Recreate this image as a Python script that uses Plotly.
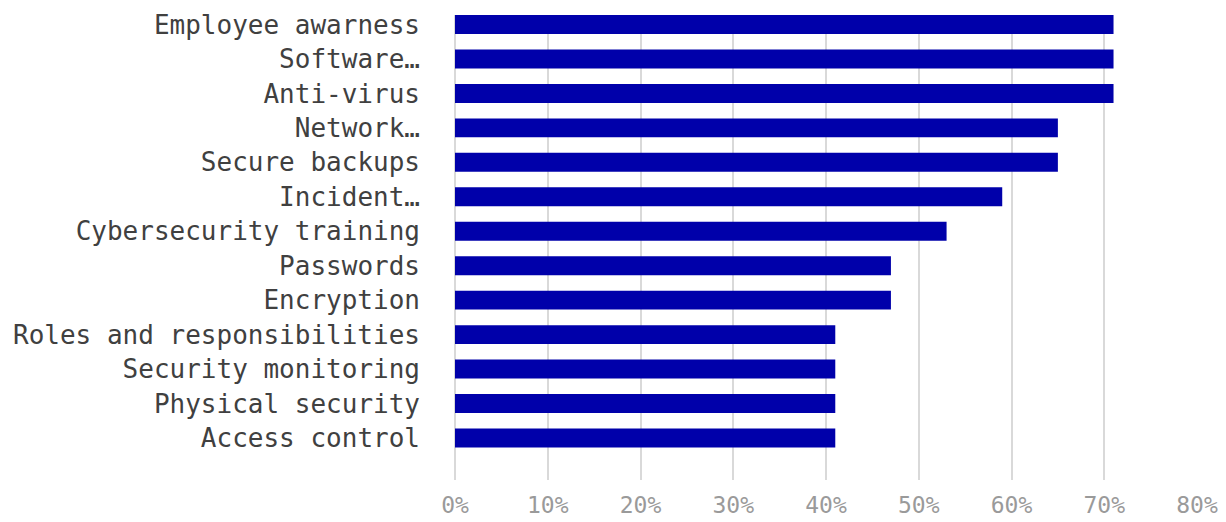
import plotly.graph_objects as go

categories = [
    "Employee awarness", "Software…", "Anti-virus", "Network…", "Secure backups",
    "Incident…", "Cybersecurity training", "Passwords", "Encryption",
    "Roles and responsibilities", "Security monitoring", "Physical security",
    "Access control",
]
values = [71, 71, 71, 65, 65, 59, 53, 47, 47, 41, 41, 41, 41]
x_ticks = [0, 10, 20, 30, 40, 50, 60, 70, 80]
x_tick_labels = [f"{v}%" for v in x_ticks]

FONT = "DejaVu Sans Mono"

fig = go.Figure(
    go.Bar(
        x=values,
        y=categories,
        orientation="h",
        marker=dict(color="#0000AA", line=dict(width=0)),
        width=0.55,
    )
)

fig.update_layout(
    width=1226,
    height=522,
    margin=dict(l=455, r=29, t=15, b=42),
    paper_bgcolor="white",
    plot_bgcolor="white",
    showlegend=False,
    font=dict(family=FONT, size=26, color="#404040"),
)

fig.update_xaxes(
    automargin=False,
    range=[0, 80],
    tickvals=x_ticks,
    ticktext=x_tick_labels,
    showgrid=True,
    gridcolor="#d9d9d9",
    gridwidth=1.5,
    zeroline=True,
    zerolinecolor="#d9d9d9",
    zerolinewidth=1.5,
    showline=False,
    ticks="",
    ticklabelstandoff=9,
    tickfont=dict(family=FONT, size=23, color="#9a9a9a"),
)

fig.update_yaxes(
    automargin=False,
    type="category",
    categoryorder="array",
    categoryarray=categories,
    range=[13.22, -0.276],
    showgrid=False,
    zeroline=False,
    showline=False,
    ticks="",
    ticklabelstandoff=34,
    tickfont=dict(family=FONT, size=26, color="#404040"),
)

fig.write_html("out.html")
